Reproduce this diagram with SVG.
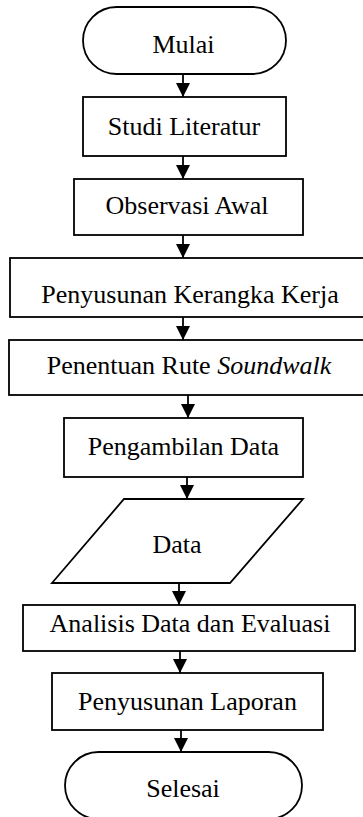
<svg xmlns="http://www.w3.org/2000/svg" width="363" height="817" viewBox="0 0 363 817">
<defs>
<style>
.s{fill:#fff;stroke:#000;stroke-width:1.8}
.t{font-family:"Liberation Serif","Times New Roman",serif;font-size:26px;fill:#000;text-anchor:middle}
.c{stroke:#000;stroke-width:1.8;fill:none}
</style>
<marker id="ah" markerUnits="userSpaceOnUse" markerWidth="14" markerHeight="14" refX="14" refY="7" orient="auto">
<path d="M0,0 L14,7 L0,14 Z" fill="#000"/>
</marker>
</defs>
<rect width="363" height="817" fill="#fff"/>
<g id="connectors">
<line class="c" x1="183" y1="74" x2="183" y2="97" marker-end="url(#ah)"/>
<line class="c" x1="183" y1="156" x2="183" y2="179" marker-end="url(#ah)"/>
<line class="c" x1="183" y1="235" x2="183" y2="258" marker-end="url(#ah)"/>
<line class="c" x1="183" y1="317" x2="183" y2="340" marker-end="url(#ah)"/>
<line class="c" x1="188" y1="395" x2="188" y2="418" marker-end="url(#ah)"/>
<line class="c" x1="187" y1="477" x2="187" y2="499" marker-end="url(#ah)"/>
<line class="c" x1="179" y1="583" x2="179" y2="605" marker-end="url(#ah)"/>
<line class="c" x1="180" y1="651" x2="180" y2="673" marker-end="url(#ah)"/>
<line class="c" x1="181" y1="730" x2="181" y2="752" marker-end="url(#ah)"/>
</g>
<g id="mulai">
<rect class="s" x="83" y="7" width="203" height="67" rx="33.5"/>
<text class="t" x="183.5" y="52.5">Mulai</text>
</g>
<g id="studi">
<rect class="s" x="83" y="97" width="203" height="59"/>
<text class="t" x="184" y="135">Studi Literatur</text>
</g>
<g id="observasi">
<rect class="s" x="74" y="179" width="229" height="56"/>
<text class="t" x="187" y="214">Observasi Awal</text>
</g>
<g id="kerangka">
<rect class="s" x="10" y="258" width="360" height="59"/>
<text class="t" x="190" y="303">Penyusunan Kerangka Kerja</text>
</g>
<g id="rute">
<rect class="s" x="9" y="340" width="361" height="55"/>
<text class="t" x="189" y="374">Penentuan Rute <tspan font-style="italic">Soundwalk</tspan></text>
</g>
<g id="pengambilan">
<rect class="s" x="64" y="418" width="239" height="59"/>
<text class="t" x="183.5" y="455">Pengambilan Data</text>
</g>
<g id="data">
<polygon class="s" points="124,499 303,499 230,583 52,583"/>
<text class="t" x="177" y="553">Data</text>
</g>
<g id="analisis">
<rect class="s" x="23" y="605" width="332" height="46"/>
<text class="t" x="190" y="632">Analisis Data dan Evaluasi</text>
</g>
<g id="laporan">
<rect class="s" x="52" y="673" width="271" height="57"/>
<text class="t" x="187.5" y="710">Penyusunan Laporan</text>
</g>
<g id="selesai">
<rect class="s" x="65" y="752" width="237" height="67" rx="33.5"/>
<text class="t" x="183" y="797">Selesai</text>
</g>
</svg>
